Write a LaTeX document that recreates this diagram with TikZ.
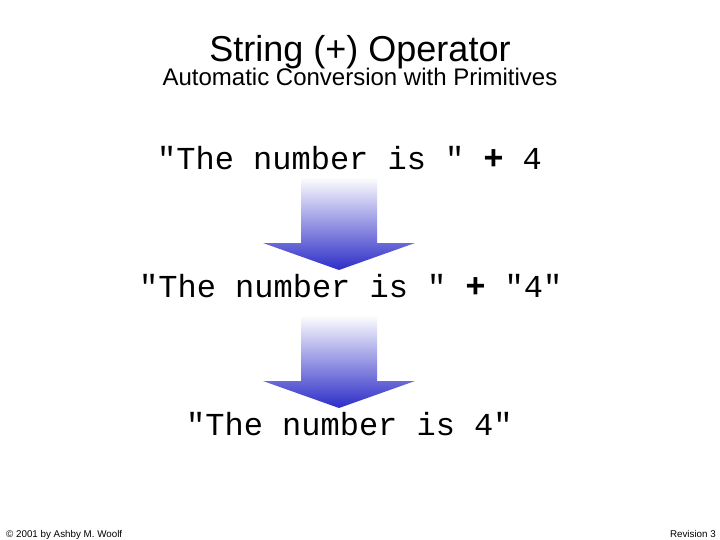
\documentclass[tikz,border=0pt]{standalone}
\usepackage{fontspec}
\setmainfont{Liberation Sans}
\setsansfont{Liberation Sans}
\setmonofont{Liberation Mono}
\definecolor{arrowblue}{RGB}{45,45,200}
\tikzset{
  titletext/.style={font=\fontsize{36}{40}\selectfont, anchor=base, inner sep=0pt},
  subtext/.style={font=\fontsize{24}{28}\selectfont, anchor=base, inner sep=0pt},
  codetext/.style={font=\ttfamily\fontsize{32}{36}\selectfont, anchor=base west, inner sep=0pt},
  foot/.style={font=\fontsize{9.8}{11}\selectfont, inner sep=0pt},
  bigarrow/.style={top color=white, bottom color=arrowblue, draw=none}
}
\newcommand{\plusop}{{\sffamily\bfseries\fontsize{34}{36}\selectfont +}}
\begin{document}
\begin{tikzpicture}[x=1pt,y=-1pt]
\useasboundingbox (0,0) rectangle (720,540);
\fill[white] (0,0) rectangle (720,540);
% arrows
\shade[bigarrow] (301,177) -- (377,177) -- (377,243) -- (415,243) -- (339,270) -- (263,243) -- (301,243) -- cycle;
\shade[bigarrow] (301,315) -- (377,315) -- (377,381) -- (415,381) -- (339,408) -- (263,381) -- (301,381) -- cycle;
% titles
\node[titletext] (title) at (360,62) {String (+) Operator};
\node[subtext] (sub) at (360,86) {Automatic Conversion with Primitives};
% code lines
\node[codetext] (l1) at (157,170) {"The number is " \plusop{} 4};
\node[codetext] (l2) at (139,297) {"The number is " \plusop{} "4"};
\node[codetext] (l3) at (186,435) {"The number is 4"};
% footer
\node[foot, anchor=base west] (copy) at (6,537) {© 2001 by Ashby M. Woolf};
\node[foot, anchor=base east] (rev) at (716,537) {Revision 3};
\end{tikzpicture}
\end{document}
